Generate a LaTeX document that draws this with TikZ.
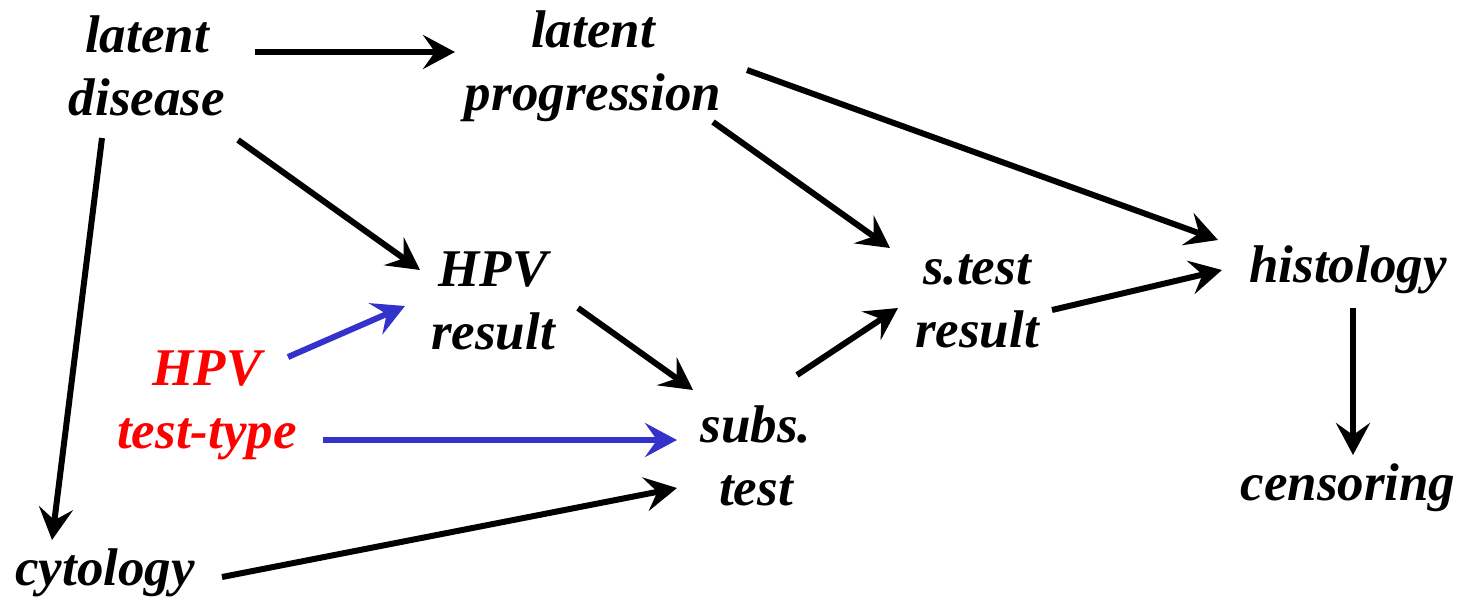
\documentclass[tikz,border=0pt]{standalone}
\usepackage{fontspec}
\setmainfont{Liberation Serif}
\usetikzlibrary{arrows.meta,calc}
\definecolor{myblue}{RGB}{51,51,204}
\definecolor{myred}{RGB}{255,0,0}
\tikzset{
  lbl/.style={inner sep=0pt, align=center, font=\fontsize{53}{63}\selectfont\bfseries\itshape},
  arr/.style={line width=6pt, -{Stealth[length=32pt,width=34pt,inset=12pt]}},
  barr/.style={arr, draw=myblue, color=myblue}
}
\begin{document}
\begin{tikzpicture}[x=1pt,y=-1pt]
\useasboundingbox (0,0) rectangle (1464,600);
\node[lbl] (ld) at (147,66) {latent\\disease};
\node[lbl] (lp) at (593,66) {latent\\progression};
\node[lbl] (hr) at (493,301) {HPV\\result};
\node[lbl,text=myred] (tt) at (207,405) {HPV\\test-type};
\node[lbl] (st) at (756,456) {subs.\\test};
\node[lbl] (sr) at (977,301) {s.test\\result};
\node[lbl] (hi) at (1348,270) {histology};
\node[lbl] (ce) at (1348,488) {censoring};
\node[lbl] (cy) at (105,573) {cytology};

\draw[arr] ($(ld)+(108,-14)$) -- ($(lp)+(-138,-14)$);
\draw[arr] ($(ld)+(91,74)$) -- ($(hr)+(-73,-31)$);
\draw[arr] ($(ld)+(-45,72)$) -- ($(cy)+(-53,-33)$);
\draw[arr] ($(lp)+(120,56)$) -- ($(sr)+(-87,-53)$);
\draw[arr] ($(lp)+(154,4)$) -- ($(hi)+(-130,-30)$);
\draw[barr] ($(tt)+(81,-48)$) -- ($(hr)+(-88,5)$);
\draw[barr] ($(tt)+(116,35)$) -- ($(st)+(-79,-16)$);
\draw[arr] ($(hr)+(85,7)$) -- ($(st)+(-63,-66)$);
\draw[arr] ($(cy)+(117,4)$) -- ($(st)+(-79,32)$);
\draw[arr] ($(st)+(41,-81)$) -- ($(sr)+(-79,7)$);
\draw[arr] ($(sr)+(75,9)$) -- ($(hi)+(-126,0)$);
\draw[arr] ($(hi)+(5,38)$) -- ($(ce)+(5,-33)$);
\end{tikzpicture}
\end{document}
